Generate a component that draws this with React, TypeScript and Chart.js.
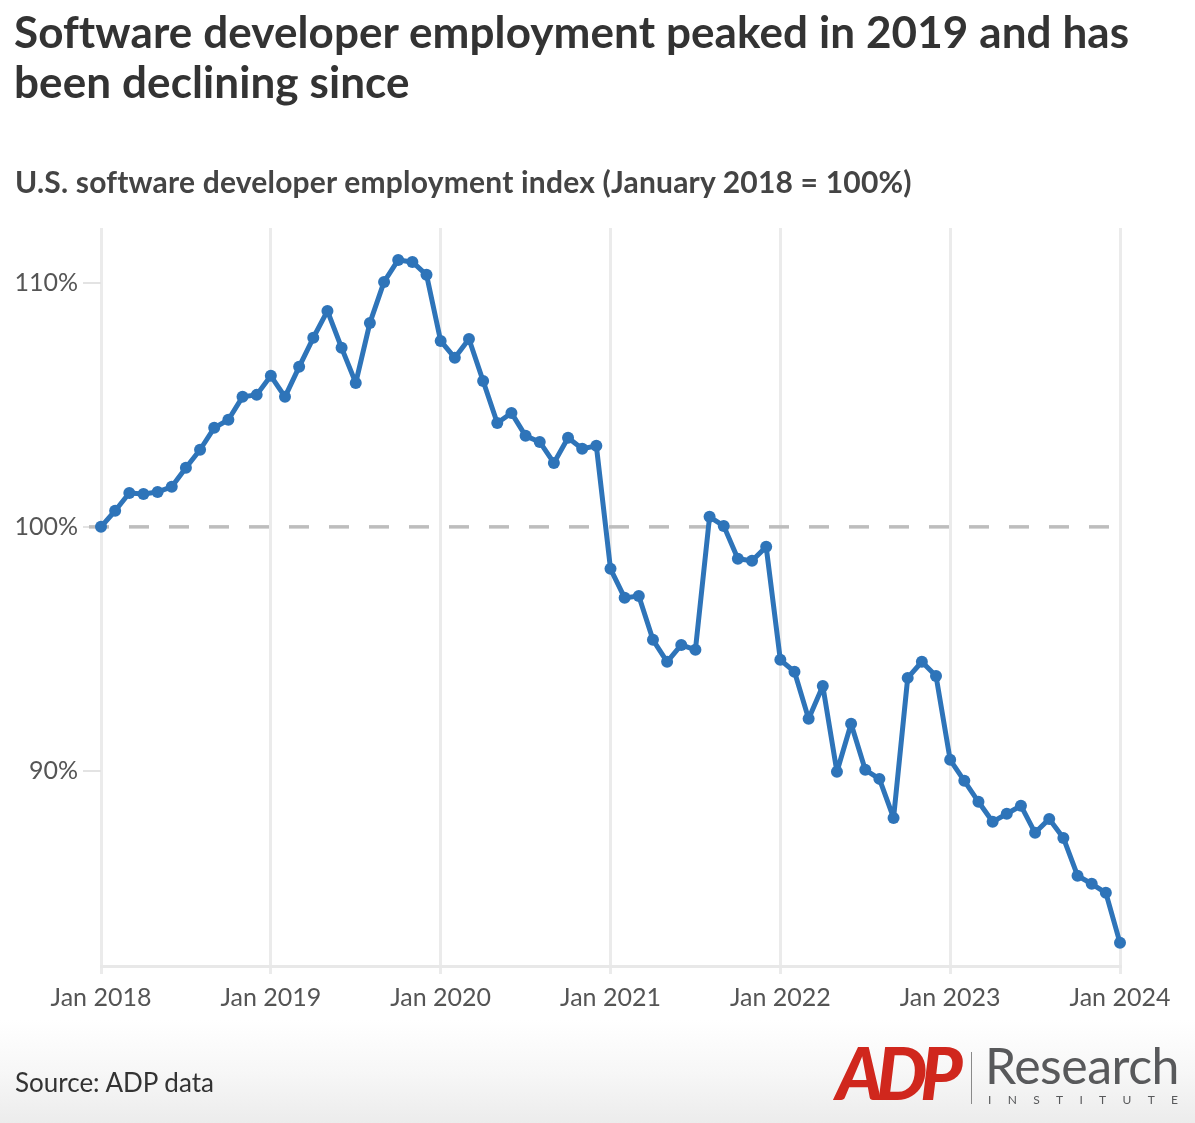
import React, { useEffect, useRef } from "react";
import { Chart, registerables } from "chart.js";

Chart.register(...registerables);

// ---- data ----
const X_TICK_MONTHS = [0, 12, 24, 36, 48, 60, 72];
const X_TICK_LABELS = ["Jan 2018", "Jan 2019", "Jan 2020", "Jan 2021", "Jan 2022", "Jan 2023", "Jan 2024"];
const Y_TICK_VALUES = [90, 100, 110];
const Y_TICK_LABELS = ["90%", "100%", "110%"];
const BASELINE_VALUE = 100;

// Monthly index, Jan 2018 .. Jan 2024 (73 months)
const INDEX_2018 = [100.0, 100.66, 101.39, 101.35, 101.43, 101.64, 102.42, 103.16, 104.06, 104.39, 105.33, 105.41];
const INDEX_2019 = [106.19, 105.33, 106.56, 107.75, 108.85, 107.34, 105.9, 108.36, 110.04, 110.94, 110.86, 110.33];
const INDEX_2020 = [107.62, 106.93, 107.7, 105.98, 104.26, 104.67, 103.73, 103.48, 102.62, 103.65, 103.2, 103.32];
const INDEX_2021 = [98.28, 97.09, 97.17, 95.37, 94.47, 95.16, 94.96, 100.41, 100.04, 98.69, 98.61, 99.18];
const INDEX_2022 = [94.55, 94.06, 92.13, 93.48, 89.96, 91.93, 90.04, 89.67, 88.07, 93.81, 94.47, 93.89];
const INDEX_2023 = [90.45, 89.59, 88.73, 87.91, 88.24, 88.57, 87.46, 88.03, 87.25, 85.7, 85.37, 85.0];
const INDEX_2024 = [82.95];

const INDEX_VALUES = [
  ...INDEX_2018, ...INDEX_2019, ...INDEX_2020, ...INDEX_2021, ...INDEX_2022, ...INDEX_2023, ...INDEX_2024,
];

const TITLE_LINES = ["Software developer employment peaked in 2019 and has", "been declining since"];
const SUBTITLE = "U.S. software developer employment index (January 2018 = 100%)";
const SOURCE = "Source: ADP data";

const LINE_COLOR = "#2e74b9";
const FONT = "Lato, 'Noto Sans', sans-serif";

const baselinePlugin = {
  id: "baselineDash",
  beforeDatasetsDraw(chart: any) {
    const { ctx, chartArea, scales } = chart;
    const y = scales.y.getPixelForValue(BASELINE_VALUE);
    ctx.save();
    ctx.strokeStyle = "#bdbdbd";
    ctx.lineWidth = 3.5;
    ctx.setLineDash([20, 20]);
    ctx.beginPath();
    ctx.moveTo(chartArea.left - 12, y);
    ctx.lineTo(chartArea.right, y);
    ctx.stroke();
    ctx.restore();
  },
};

export default function App() {
  const canvasRef = useRef<HTMLCanvasElement | null>(null);

  useEffect(() => {
    if (!canvasRef.current) return;
    const chart = new Chart(canvasRef.current, {
      type: "line",
      data: {
        datasets: [
          {
            data: INDEX_VALUES.map((v, i) => ({ x: i, y: v })),
            borderColor: LINE_COLOR,
            backgroundColor: LINE_COLOR,
            borderWidth: 5,
            borderJoinStyle: "round",
            borderCapStyle: "round",
            pointRadius: 6,
            pointBorderWidth: 0,
            pointBackgroundColor: LINE_COLOR,
            tension: 0,
            clip: false as any,
          },
        ],
      },
      options: {
        responsive: false,
        animation: false,
        devicePixelRatio: 1,
        layout: { padding: { top: 228, left: 0, right: 75, bottom: 97 } },
        plugins: { legend: { display: false }, tooltip: { enabled: false }, title: { display: false } },
        scales: {
          x: {
            type: "linear",
            min: 0,
            max: 72,
            afterBuildTicks: (s: any) => {
              s.ticks = X_TICK_MONTHS.map((v) => ({ value: v }));
            },
            afterFit: (s: any) => {
              s.height = 60;
            },
            grid: { color: "#ebebeb", lineWidth: 3, tickLength: 8, drawOnChartArea: true },
            border: { display: true, color: "#e8e8e8", width: 3 },
            ticks: {
              autoSkip: false,
              maxRotation: 0,
              color: "#555555",
              padding: 9,
              font: { family: FONT, size: 25 },
              callback: (v: any) => X_TICK_LABELS[X_TICK_MONTHS.indexOf(Number(v))] ?? "",
            },
          },
          y: {
            type: "linear",
            min: 82,
            max: 112.25,
            afterBuildTicks: (s: any) => {
              s.ticks = Y_TICK_VALUES.map((v) => ({ value: v }));
            },
            afterFit: (s: any) => {
              s.width = 101;
            },
            grid: { drawOnChartArea: false, drawTicks: true, tickLength: 18, color: "#e3e3e3", lineWidth: 2 },
            border: { display: false },
            ticks: {
              color: "#555555",
              padding: 5,
              font: { family: FONT, size: 25 },
              callback: (v: any) => Y_TICK_LABELS[Y_TICK_VALUES.indexOf(Number(v))] ?? "",
            },
          },
        },
      },
      plugins: [baselinePlugin],
    } as any);
    return () => chart.destroy();
  }, []);

  return (
    <div
      style={{
        position: "absolute",
        left: 0,
        top: 0,
        width: 1195,
        height: 1123,
        background: "#ffffff",
        overflow: "hidden",
        fontFamily: FONT,
      }}
    >
      <div
        style={{
          position: "absolute",
          left: 0,
          top: 1020,
          width: 1195,
          height: 103,
          background: "linear-gradient(to bottom, #ffffff 0%, #f7f7f7 50%, #ececec 100%)",
        }}
      />
      <canvas ref={canvasRef} width={1195} height={1123} style={{ position: "absolute", left: 0, top: 0 }} />
      <div
        style={{
          position: "absolute",
          left: 14,
          top: 6,
          fontSize: 44,
          lineHeight: "50px",
          fontWeight: 700,
          color: "#333333",
          letterSpacing: 0.1,
          whiteSpace: "nowrap",
        }}
      >
        {TITLE_LINES.map((t) => (
          <div key={t}>{t}</div>
        ))}
      </div>
      <div
        style={{
          position: "absolute",
          left: 15,
          top: 166,
          fontSize: 30,
          lineHeight: "30px",
          fontWeight: 700,
          color: "#444444",
          letterSpacing: 0.2,
          whiteSpace: "nowrap",
        }}
      >
        {SUBTITLE}
      </div>
      <div
        style={{
          position: "absolute",
          left: 15,
          top: 1069,
          fontSize: 26,
          lineHeight: "26px",
          color: "#333333",
          whiteSpace: "nowrap",
        }}
      >
        {SOURCE}
      </div>
      {/* ADP Research Institute logo */}
      <div
        style={{
          position: "absolute",
          left: 836,
          top: 1036,
          fontSize: 72,
          lineHeight: "72px",
          fontWeight: 900,
          fontStyle: "italic",
          color: "#d0271d",
          letterSpacing: -7,
          whiteSpace: "nowrap",
        }}
      >
        ADP
      </div>
      <div style={{ position: "absolute", left: 971, top: 1052, width: 1, height: 52, background: "#8a8a8a" }} />
      <div
        style={{
          position: "absolute",
          left: 985,
          top: 1040,
          fontSize: 50,
          lineHeight: "50px",
          color: "#58595b",
          letterSpacing: -0.5,
          whiteSpace: "nowrap",
        }}
      >
        Research
      </div>
      <div
        style={{
          position: "absolute",
          left: 988,
          top: 1094,
          width: 190,
          display: "flex",
          justifyContent: "space-between",
          fontSize: 12,
          lineHeight: "12px",
          color: "#58595b",
        }}
      >
        {"INSTITUTE".split("").map((c, i) => (
          <span key={i}>{c}</span>
        ))}
      </div>
    </div>
  );
}
